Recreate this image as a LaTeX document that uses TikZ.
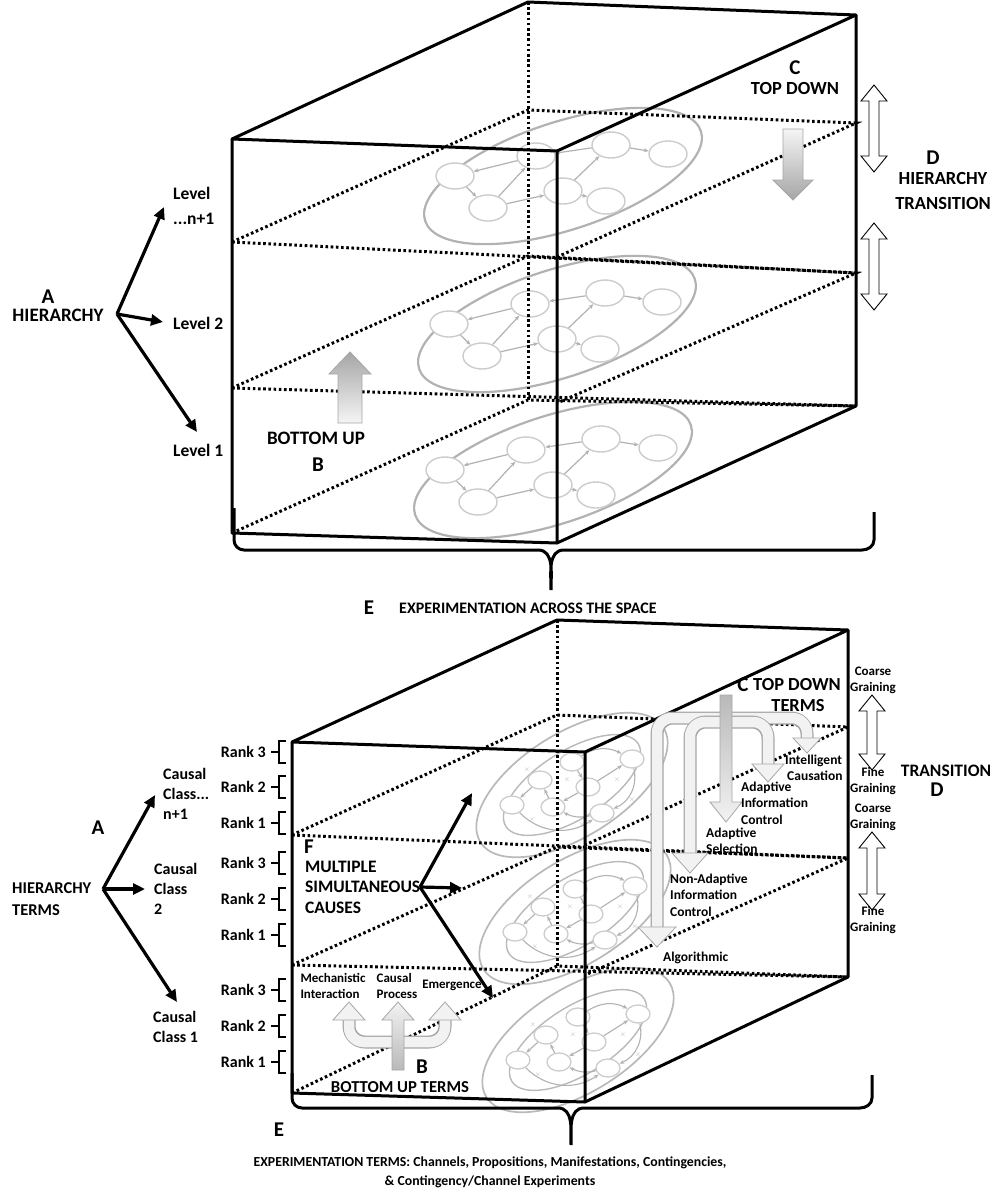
\documentclass[tikz,border=0pt]{standalone}
\usepackage{fontspec}
\setmainfont{Carlito}
\usetikzlibrary{arrows.meta,shapes.geometric}
\newcommand\fs[1]{\bfseries\fontsize{#1}{#1}\selectfont}
\begin{document}
\begin{tikzpicture}[x=1pt,y=-1pt,
  solid line/.style={line width=3pt,line join=round},
  dots/.style={line width=3pt,dash pattern=on 2.6pt off 2.6pt},
  lab/.style={font=\fs{18},inner sep=0pt,align=left},
  big/.style={font=\fs{21},inner sep=0pt},
  sm/.style={font=\fs{13.5},inner sep=0pt,align=left},
  blk/.style={line width=3.2pt,-{Triangle[length=12pt,width=11pt]}},
  sn/.style={ellipse,draw=gray!40,line width=1.4pt,fill=white,minimum width=38pt,minimum height=26pt,inner sep=0pt},
  sarr/.style={gray!60,line width=1.2pt,-{Stealth[length=5pt,width=4pt]}},
  cn/.style={ellipse,draw=gray!40,line width=1.3pt,fill=white,minimum width=24pt,minimum height=18pt,inner sep=0pt},
  carr/.style={gray!60,line width=1.1pt,-{Stealth[length=5pt,width=4pt]}},
  ]
\useasboundingbox (0,0) rectangle (1001,1200);
\fill[white] (0,0) rectangle (1001,1200);

\newcommand\topnet[3]{%
 \begin{scope}[shift={(#1,#2)}]
  \draw[gray!60,line width=2.2pt,rotate=18] (0,0) ellipse (145 and 54);
  \node[sn] (#3a) at (-108,0) {};
  \node[sn] (#3b) at (-75,32) {};
  \node[sn] (#3c) at (-27,-20) {};
  \node[sn] (#3d) at (0,15) {};
  \node[sn] (#3e) at (48,-31) {};
  \node[sn] (#3f) at (43,25) {};
  \node[sn] (#3g) at (105,-22) {};
  \draw[sarr] (#3a) -- (#3b);
  \draw[sarr] (#3c) -- (#3a);
  \draw[sarr] (#3b) -- (#3c);
  \draw[sarr] (#3b) -- (#3d);
  \draw[sarr] (#3d) -- (#3e);
  \draw[sarr] (#3e) -- (#3c);
  \draw[sarr] (#3e) -- (#3g);
  \draw[sarr] (#3d) -- (#3f);
 \end{scope}}
\newcommand\botnet[3]{%
 \begin{scope}[shift={(#1,#2)}]
  \draw[gray!55,line width=1.7pt,rotate=32] (0,0) ellipse (108 and 52);
  \draw[gray!55,line width=1.4pt,rotate=32] (0,0) ellipse (78 and 34);
  \node[cn] (#3a) at (-60,20) {};
  \node[cn] (#3b) at (-32,-5) {};
  \node[cn] (#3c) at (-19,22) {};
  \node[cn] (#3d) at (0,-23) {};
  \node[cn] (#3e) at (16,2) {};
  \node[cn] (#3f) at (60,-26) {};
  \node[cn] (#3g) at (30,28) {};
  \draw[carr] (#3b) -- (#3a);
  \draw[carr] (#3c) -- (#3b);
  \draw[carr] (#3d) -- (#3e);
  \draw[carr] (#3e) -- (#3c);
  \draw[carr] (#3g) to[bend left=20] (#3c);
  \draw[carr] (#3e) -- (#3f);
  \draw[carr] (#3a) to[bend right=40] (#3g);
  \draw[carr] (#3d) to[bend left=30] (#3f);
  \draw[carr] (#3f) to[bend left=40] (#3g);
  \foreach \p in {(-45,-15),(-5,-5),(45,-5),(60,15),(-40,35),(10,40)}
    \node[gray!60,font=\fontsize{7}{7}\selectfont,inner sep=0pt] at \p {$\times$};
 \end{scope}}
\newcommand\garrow[7]{%
 \draw[gray!70,line width=0.8pt,#7] (#1,#3) -- ({#1+#5},{#3+#6}) -- ({#1+#4},{#3+#6}) -- ({#1+#4},#2)
   -- ({#1-#4},#2) -- ({#1-#4},{#3+#6}) -- ({#1-#5},{#3+#6}) -- cycle;}
\newcommand\dblarrow[3]{%
 \draw[line width=0.9pt,fill=white] (#1,#2) -- ({#1+13},{#2+16}) -- ({#1+5},{#2+16}) -- ({#1+5},{#3-16})
   -- ({#1+13},{#3-16}) -- (#1,#3) -- ({#1-13},{#3-16}) -- ({#1-5},{#3-16}) -- ({#1-5},{#2+16})
   -- ({#1-13},{#2+16}) -- cycle;}
\newcommand\tube[1]{%
 \draw[gray!70,line width=13pt,rounded corners=16pt] #1;
 \draw[gray!10,line width=10.5pt,rounded corners=15pt] #1;}
\newcommand\headd[4]{\draw[gray!70,line width=0.8pt,fill=gray!10] (#1,#2) -- ({#1-#3},{#2-#4}) -- ({#1+#3},{#2-#4}) -- cycle;}
\newcommand\headu[4]{\draw[gray!70,line width=0.8pt,fill=gray!10] (#1,#2) -- ({#1-#3},{#2+#4}) -- ({#1+#3},{#2+#4}) -- cycle;}

% ================= TOP CUBE =================
\topnet{563}{176}{ta}
\topnet{557}{324}{tb}
\topnet{553}{470}{tc}

\draw[dots] (528,2) -- (528,400);
\draw[dots] (232,242) -- (528,110) -- (856,123) -- (557,257);
\draw[dots] (232,242) -- (856,273);
\draw[dots] (232,388) -- (528,256) -- (856,273) -- (557,403);
\draw[dots] (232,388) -- (856,406);
\draw[dots] (232,533) -- (528,400) -- (856,406);
\draw[solid line] (232,139) -- (528,2) -- (856,15) -- (557,151) -- cycle;
\draw[solid line] (232,139) -- (232,533) -- (557,543) -- (557,151);
\draw[solid line] (856,15) -- (856,406) -- (557,543);
\draw[line width=3pt] (234,508) -- (234,540) to[out=-90,in=180] (244,550) -- (538,550)
  to[out=0,in=90] (551,590) to[out=90,in=180] (564,550) -- (862,550) to[out=0,in=-90] (874,540) -- (874,512);

\garrow{350}{423}{352}{12}{21}{22}{top color=gray!70,bottom color=gray!8}
\garrow{793}{129}{200}{10}{20}{-20}{top color=gray!8,bottom color=gray!70}
\dblarrow{874}{85}{172}
\dblarrow{874}{223}{310}

\node[big] (A1) at (48,297) {A};
\node[lab,font=\fs{19}] (H1) at (58,315) {HIERARCHY};
\coordinate (h1) at (117,314);
\node[lab,anchor=west,font=\fs{17.5}] (L3) at (173,206) {Level\\[7pt]...n+1};
\node[lab,anchor=west,font=\fs{17.5}] (L2) at (173,323) {Level 2};
\node[lab,anchor=west,font=\fs{17.5}] (L1) at (173,450) {Level 1};
\coordinate (e1) at (164,207);
\coordinate (e2) at (163,322);
\coordinate (e3) at (197,432);
\draw[blk] (h1) -- (e1);
\draw[blk] (h1) -- (e2);
\draw[blk] (h1) -- (e3);
\node[lab,font=\fs{19}] (BU) at (316,438) {BOTTOM UP};
\node[big] (B1) at (318,465) {B};
\node[big] (C1) at (795,68) {C};
\node[lab,font=\fs{18.5}] (TD) at (795,88) {TOP DOWN};
\node[big] (D1) at (933,158) {D};
\node[lab,font=\fs{18.5},align=center] (HT) at (943,191) {HIERARCHY\\[6pt]TRANSITION};
\node[big] (E1) at (369,608) {E};
\node[lab,anchor=west,font=\fs{16}] (ET) at (399,608) {EXPERIMENTATION ACROSS THE SPACE};

% ================= BOTTOM CUBE =================
\botnet{572}{785}{ba}
\botnet{575}{912}{bb}
\botnet{578}{1040}{bc}

\draw[dots] (557,620) -- (557,966);
\draw[dots] (292,835) -- (557,715) -- (848,727) -- (585,845);
\draw[dots] (292,835) -- (848,858);
\draw[dots] (292,965) -- (557,847) -- (848,858) -- (585,975);
\draw[dots] (292,965) -- (848,977);
\draw[dots] (292,1093) -- (557,966) -- (848,977);
\draw[solid line] (292,742) -- (557,620) -- (848,630) -- (585,752) -- cycle;
\draw[solid line] (292,742) -- (292,1093) -- (585,1102) -- (585,752);
\draw[solid line] (848,630) -- (848,977) -- (585,1102);
\draw[line width=3pt] (292,1073) -- (292,1098) to[out=-90,in=180] (302,1108) -- (558,1108)
  to[out=0,in=90] (571,1145) to[out=90,in=180] (584,1108) -- (860,1108) to[out=0,in=-90] (872,1098) -- (872,1075);

\tube{(726,718) -- (657,718) -- (657,930)}
\headd{657}{947}{19}{20}
\tube{(726,722) -- (690,722) -- (690,856)}
\headd{690}{873}{18}{20}
\tube{(726,718) -- (807,718) -- (807,740)}
\headd{807}{753}{14}{15}
\tube{(726,722) -- (768,722) -- (768,766)}
\headd{768}{782}{16}{18}
\garrow{726}{695}{822}{6}{16}{-20}{top color=gray!55,bottom color=gray!10}

\tube{(398,1042) -- (349,1042) -- (349,1018)}
\tube{(398,1042) -- (445,1042) -- (445,1018)}
\headu{349}{1002}{16}{18}
\headu{445}{1002}{16}{18}
\garrow{398}{1070}{1002}{6}{16}{18}{top color=gray!10,bottom color=gray!55}

\dblarrow{872}{695}{770}
\dblarrow{872}{832}{910}

\foreach \y/\r [count=\i] in {752/3,787/2,823/1,863/3,899/2,935/1,990/3,1026/2,1062/1}{
  \node[sm,anchor=east,font=\fs{16}] (rk\i) at (266,\y) {Rank \r};
  \draw[line width=2pt] (271,\y) -- (279,\y) (286,{\y-11}) -- (279,{\y-11}) -- (279,{\y+11}) -- (286,{\y+11});
}

\node[big] (A2) at (98,828) {A};
\node[lab,font=\fs{16.5},anchor=west,align=left] (H2) at (12,899) {HIERARCHY\\[5pt]TERMS};
\coordinate (h2) at (103,889);
\coordinate (f1) at (155,795);
\coordinate (f2) at (145,889);
\coordinate (f3) at (177,1002);
\draw[blk] (h2) -- (f1);
\draw[blk] (h2) -- (f2);
\draw[blk] (h2) -- (f3);
\node[lab,anchor=west,font=\fs{16}] (CC3) at (163,794) {Causal\\[4pt]Class...\\[4pt]n+1};
\node[lab,anchor=west,font=\fs{16}] (CC2) at (154,889) {Causal\\[4pt]Class\\[4pt]2};
\node[lab,anchor=west,font=\fs{16}] (CC1) at (153,1027) {Causal\\[4pt]Class 1};

\node[big,anchor=west] (F) at (304,847) {F};
\node[lab,anchor=west,font=\fs{17.5}] (MS) at (305,887) {MULTIPLE\\[3pt]SIMULTANEOUS\\[3pt]CAUSES};
\coordinate (m0) at (420,887);
\coordinate (m1) at (472,793);
\coordinate (m2) at (462,888);
\coordinate (m3) at (493,998);
\draw[blk] (m0) -- (m1);
\draw[blk] (m0) -- (m2);
\draw[blk] (m0) -- (m3);

\node[sm,font=\fs{13}] (MI) at (333,986) {Mechanistic\\[3pt]Interaction};
\node[sm,font=\fs{13}] (CP) at (397,986) {Causal\\[3pt]Process};
\node[sm,font=\fs{13}] (EM) at (452,985) {Emergence};
\node[big] (B2) at (422,1067) {B};
\node[lab,font=\fs{16.7}] (BUT) at (400,1087) {BOTTOM UP TERMS};

\node[big] (C2) at (743,685) {C};
\node[lab,font=\fs{18.4},anchor=west] (TDT) at (753,685) {TOP DOWN};
\node[lab,font=\fs{18.4}] (TT) at (798,706) {TERMS};
\node[sm,anchor=west] (IC) at (785,768) {Intelligent\\[3pt]\hspace*{2pt}Causation};
\node[sm,anchor=west] (AIC) at (741,803) {Adaptive\\[3pt]Information\\[3pt]Control};
\node[sm,anchor=west] (AS) at (706,841) {Adaptive\\[3pt]Selection};
\node[sm,anchor=west] (NAIC) at (670,895) {Non-Adaptive\\[3pt]Information\\[3pt]Control};
\node[sm,anchor=west] (ALG) at (663,958) {Algorithmic};

\node[sm,align=center,font=\fs{13}] (CG1) at (873,680) {Coarse\\[3pt]Graining};
\node[sm,align=center,font=\fs{13}] (FG1) at (873,781) {Fine\\[3pt]Graining};
\node[sm,align=center,font=\fs{13}] (CG2) at (873,817) {Coarse\\[3pt]Graining};
\node[sm,align=center,font=\fs{13}] (FG2) at (873,920) {Fine\\[3pt]Graining};
\node[lab,font=\fs{17.5}] (TR) at (946,771) {TRANSITION};
\node[big] (D2) at (937,790) {D};

\node[big] (E2) at (279,1130) {E};
\node[sm,font=\fs{13.8},align=center] (EXT) at (490,1172)
  {EXPERIMENTATION TERMS: Channels, Propositions, Manifestations, Contingencies,\\[5pt]
   \& Contingency/Channel Experiments};
\end{tikzpicture}
\end{document}
